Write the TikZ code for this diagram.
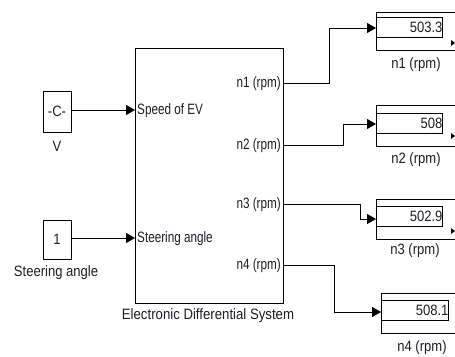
\documentclass[tikz,border=0pt]{standalone}
\usepackage{fontspec}
\setmainfont{Liberation Sans}
\usetikzlibrary{arrows.meta}
\definecolor{ink}{RGB}{30,30,40}
\newcommand{\tx}[1]{\scalebox{0.87}[1]{#1}}
\newcommand{\tp}[1]{\scalebox{0.78}[1]{#1}}
\tikzset{
  blk/.style={draw, line width=0.9pt, inner sep=0pt},
  lbl/.style={inner sep=0pt, text=ink, font=\fontsize{15}{15}\selectfont},
  wire/.style={line width=0.9pt, -{Triangle[length=9pt,width=10pt]}},
  disp/.style={draw, line width=0.9pt, inner sep=0pt, minimum height=20pt, text width=66pt, align=right, anchor=west, text=ink, font=\fontsize{15}{15}\selectfont},
}
\begin{document}
\begin{tikzpicture}[x=1pt,y=-1pt]
\clip (0,0) rectangle (455,356);
\fill[white] (0,0) rectangle (455,356);
% constants
\node[blk, minimum width=28pt, minimum height=41pt, lbl] (cV) at (57,111.5) {\tx{-C-}};
\node[lbl] (lV) at (57,146) {\tx{V}};
\node[blk, minimum width=28pt, minimum height=39pt, lbl] (cS) at (57,239.5) {\tx{1}};
\node[lbl] (lS) at (56,273) {\tx{Steering angle}};
% main block
\node[blk, minimum width=148pt, minimum height=255pt] (eds) at (209,175.5) {};
\node[lbl] (leds) at (208,316) {\scalebox{0.88}[1]{Electronic Differential System}};
\coordinate (iSpeed) at (135,110);
\coordinate (iSteer) at (135,238);
\node[lbl, anchor=west] (tSpeed) at (137,110.5) {\tp{Speed of EV}};
\node[lbl, anchor=west] (tSteer) at (137,238.5) {\tp{Steering angle}};
\coordinate (o1) at (283,83);
\coordinate (o2) at (283,145);
\coordinate (o3) at (283,204);
\coordinate (o4) at (283,265);
\node[lbl, anchor=east] (t1) at (281,83.5) {\tp{n1 (rpm)}};
\node[lbl, anchor=east] (t2) at (281,145.5) {\tp{n2 (rpm)}};
\node[lbl, anchor=east] (t3) at (281,204.5) {\tp{n3 (rpm)}};
\node[lbl, anchor=east] (t4) at (281,265.5) {\tp{n4 (rpm)}};
% input wires
\draw[wire] (cV.east |- iSpeed) -- (iSpeed);
\draw[wire] (cS.east |- iSteer) -- (iSteer);
% displays
\draw[line width=0.9pt] (376,12) rectangle (470,50);
\node[disp] (d1) at (376,27.5) {\tx{503.3}\hspace{3pt}};
\draw[line width=0.9pt] (376,105) rectangle (470,146);
\node[disp] (d2) at (376,123) {\tx{508}\hspace{3pt}};
\draw[line width=0.9pt] (376,199) rectangle (470,239);
\node[disp] (d3) at (376,216.5) {\tx{502.9}\hspace{3pt}};
\draw[line width=0.9pt] (381,293) rectangle (470,333);
\node[disp, text width=67pt] (d4) at (381,310.5) {\tx{508.1}\hspace{3pt}};
% small scroll arrows
\fill (451,40) -- (455,43) -- (451,46) -- cycle;
\fill (451,133) -- (455,136) -- (451,139) -- cycle;
\fill (451,228) -- (455,231) -- (451,234) -- cycle;
% display labels
\node[lbl] (l1) at (416,65) {\tx{n1 (rpm)}};
\node[lbl] (l2) at (416,160) {\tx{n2 (rpm)}};
\node[lbl] (l3) at (415,251) {\tx{n3 (rpm)}};
\node[lbl] (l4) at (422,348) {\tx{n4 (rpm)}};
% output wires
\draw[wire] (o1) -- (329,83) -- (329,28) -- (d1.west |- 0,28);
\draw[wire] (o2) -- (343,145) -- (343,124) -- (d2.west |- 0,124);
\draw[wire] (o3) -- (360,204) -- (360,219) -- (d3.west |- 0,219);
\draw[wire] (o4) -- (334,265) -- (334,312) -- (d4.west |- 0,312);
\end{tikzpicture}
\end{document}
